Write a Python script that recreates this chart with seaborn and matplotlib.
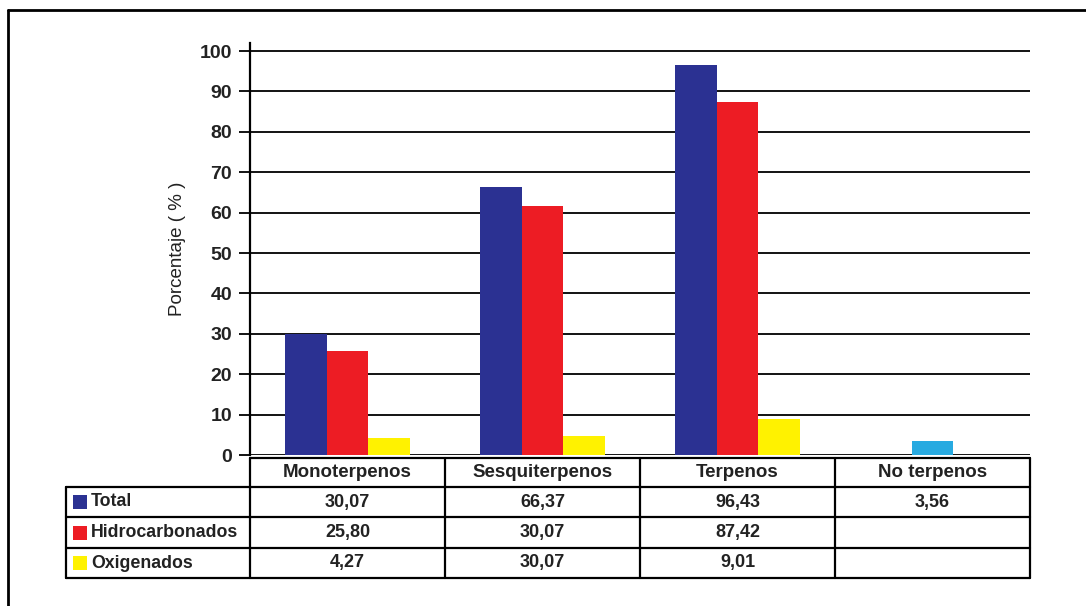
import seaborn as sns
import matplotlib.pyplot as plt
import matplotlib.transforms as mtransforms
from matplotlib.patches import Rectangle
import numpy as np
import pandas as pd

# datos
categorias = ['Monoterpenos', 'Sesquiterpenos', 'Terpenos', 'No terpenos']
series = ['Total', 'Hidrocarbonados', 'Oxigenados']
total = [30.07, 66.37, 96.43, np.nan]
hidrocarbonados = [25.80, 61.62, 87.42, np.nan]
oxigenados = [4.27, 4.74, 9.01, np.nan]
no_terpenos = [3.56]
# textos de la tabla (tal como aparecen)
tabla_total = ['30,07', '66,37', '96,43', '3,56']
tabla_hidro = ['25,80', '30,07', '87,42', '']
tabla_oxi = ['4,27', '30,07', '9,01', '']
y_ticks = [0, 10, 20, 30, 40, 50, 60, 70, 80, 90, 100]

colores = {'Total': '#2B3192', 'Hidrocarbonados': '#ED1C24', 'Oxigenados': '#FFF200'}
color_no = '#27AAE1'

df = pd.DataFrame({
    'categoria': categorias * 3,
    'serie': [s for s in series for _ in categorias],
    'valor': total + hidrocarbonados + oxigenados,
})

sns.set_style('white')
plt.rcParams['font.family'] = ['Liberation Sans', 'DejaVu Sans']

W, H = 1086, 606
fig = plt.figure(figsize=(W / 100, H / 100), dpi=100)
ax = fig.add_axes([250 / W, 1 - 455 / H, 780 / W, (455 - 43) / H])

def fy(py):
    return 1 - py / H

sns.barplot(data=df, x='categoria', y='valor', hue='serie', order=categorias,
            hue_order=series, palette=colores, width=0.646, saturation=1,
            ax=ax, legend=False, linewidth=0)
sns.barplot(x=['No terpenos'], y=no_terpenos, order=categorias, color=color_no,
            width=0.215, saturation=1, ax=ax, linewidth=0)

ax.set_xlim(-0.5, 3.5)
ax.set_ylim(0, 102)
ax.set_yticks(y_ticks)
ax.set_yticklabels([str(t) for t in y_ticks], fontsize=14, fontweight='bold', color='#222222')
ax.set_xticks([])
ax.set_xlabel('')
ax.set_ylabel('Porcentaje ( % )', fontsize=13.5, labelpad=10, color='#222222',
              family=['Liberation Sans Narrow', 'Liberation Sans', 'DejaVu Sans'])
ax.yaxis.grid(True, color='black', lw=1.3)
ax.set_axisbelow(True)
ax.tick_params(axis='y', direction='out', length=8, width=1.3, color='black', pad=5, left=True)
for s in ['top', 'right', 'bottom']:
    ax.spines[s].set_visible(False)
ax.spines['left'].set_color('black')
ax.spines['left'].set_linewidth(1.6)

# tabla de datos
tr = mtransforms.blended_transform_factory(ax.transData, fig.transFigure)
lw = 1.6
filas_y = [458, 487, 517, 548, 578]
x_leg = 66 / W
# lineas horizontales
ax.plot([-0.5, 3.5], [fy(458)] * 2, color='black', lw=lw, transform=tr, clip_on=False)
for py in filas_y[1:]:
    fig.add_artist(plt.Line2D([x_leg, 1030 / W], [fy(py)] * 2, color='black', lw=lw))
# lineas verticales
for xb in [-0.5, 0.5, 1.5, 2.5, 3.5]:
    ax.plot([xb, xb], [fy(458), fy(578)], color='black', lw=lw, transform=tr, clip_on=False)
fig.add_artist(plt.Line2D([x_leg, x_leg], [fy(487), fy(578)], color='black', lw=lw))

centros = [(filas_y[i] + filas_y[i + 1]) / 2 for i in range(4)]
for i, cat in enumerate(categorias):
    ax.text(i, fy(centros[0]), cat, transform=tr, ha='center', va='center',
            fontsize=13.5, fontweight='bold', color='#222222')
    for fila, textos in zip(range(1, 4), [tabla_total, tabla_hidro, tabla_oxi]):
        ax.text(i, fy(centros[fila]), textos[i], transform=tr, ha='center', va='center',
                fontsize=13, fontweight='bold', color='#222222')

for fila, serie in zip(range(1, 4), series):
    fig.add_artist(Rectangle((73 / W, fy(centros[fila] + 7)), 14 / W, 14 / H,
                             facecolor=colores[serie], edgecolor='none'))
    fig.text(91 / W, fy(centros[fila]), serie, ha='left', va='center',
             fontsize=12.8, fontweight='bold', color='#222222')

# marco exterior
fig.add_artist(plt.Line2D([8 / W, 8 / W], [fy(10), 0], color='black', lw=2))
fig.add_artist(plt.Line2D([8 / W, 1], [fy(10), fy(10)], color='black', lw=2))

fig.savefig('out.png', dpi=100)
